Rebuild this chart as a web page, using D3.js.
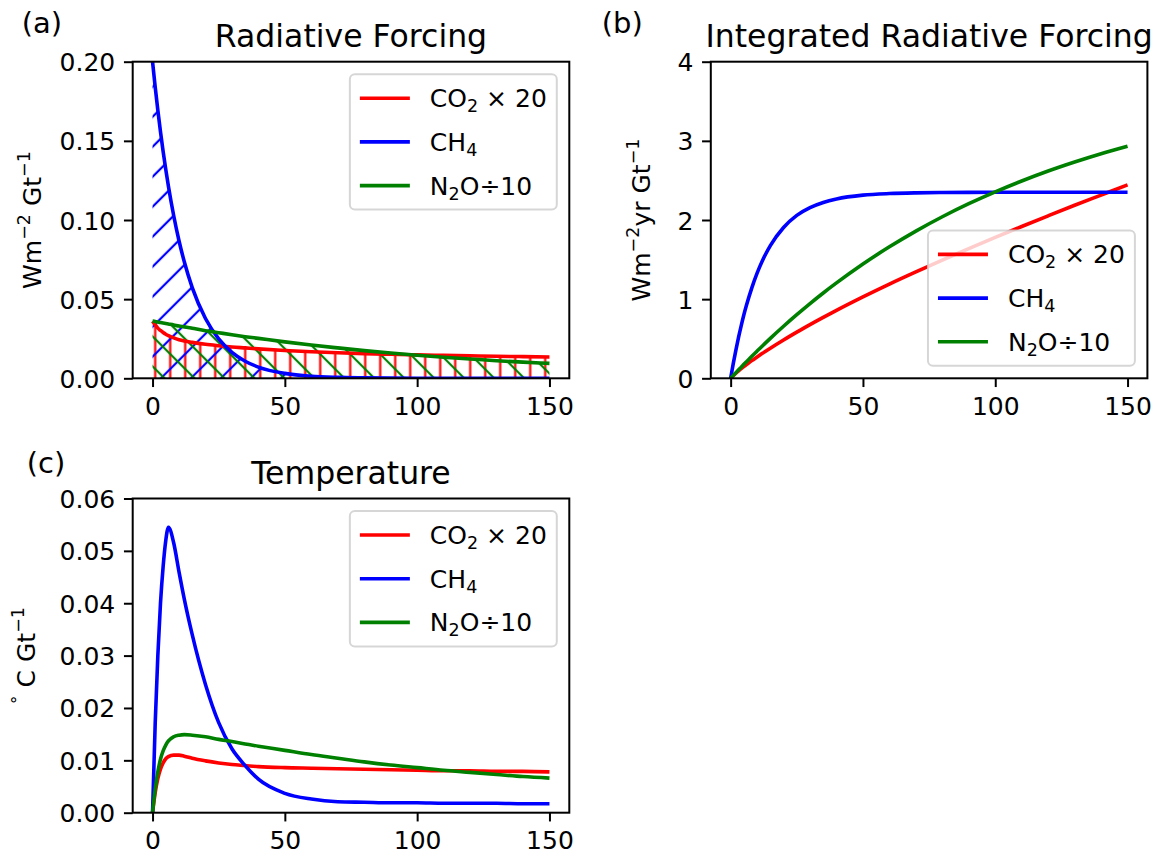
<!DOCTYPE html>
<html>
<head>
  <meta charset="utf-8">
  <title>forcing</title>
  <script src="https://d3js.org/d3.v7.min.js"></script>
  <style>
    body { margin: 0; background: #fff; }
    text { font-family: "DejaVu Sans", sans-serif; fill: #000; }
  </style>
</head>
<body>
  <svg width="1153" height="855" id="mainsvg"></svg>
  <script>
    // years after a 1 Gt pulse
    const years = [0,1,2,3,4,5,6,8,10,12,15,20,25,30,35,40,50,60,70,80,90,100,110,120,130,140,150];

    // (a) radiative forcing, W m-2 per Gt
    const rfCO2 = [0.0360,0.0337,0.0317,0.0302,0.0289,0.0278,0.0269,0.0255,0.0244,0.0236,0.0227,0.0215,0.0206,0.0198,0.0192,0.0186,0.0176,0.0168,0.0161,0.0156,0.0152,0.0148,0.0145,0.0142,0.0139,0.0137,0.0135];
    const rfCH4 = [0.2000,0.1840,0.1693,0.1558,0.1433,0.1319,0.1213,0.1027,0.0869,0.0736,0.0573,0.0378,0.0249,0.0164,0.0108,0.0071,0.0031,0.0013,0.0006,0.0003,0.0001,0,0,0,0,0,0];
    const rfN2O = [0.0362,0.0359,0.0355,0.0352,0.0349,0.0346,0.0343,0.0337,0.0330,0.0325,0.0316,0.0301,0.0288,0.0275,0.0263,0.0252,0.0230,0.0210,0.0192,0.0175,0.0160,0.0146,0.0133,0.0122,0.0111,0.0102,0.0094];

    // (b) integrated radiative forcing, W m-2 yr per Gt
    const irfCO2 = [0,0.033,0.064,0.093,0.121,0.148,0.173,0.223,0.269,0.315,0.380,0.484,0.583,0.679,0.770,0.859,1.029,1.191,1.345,1.494,1.639,1.780,1.918,2.053,2.186,2.315,2.444];
    const irfCH4 = [0,0.188,0.360,0.520,0.666,0.802,0.925,1.143,1.329,1.486,1.677,1.906,2.059,2.157,2.222,2.266,2.314,2.334,2.343,2.347,2.349,2.350,2.350,2.350,2.350,2.350,2.350];
    const irfN2O = [0,0.036,0.071,0.107,0.141,0.176,0.210,0.278,0.344,0.409,0.505,0.658,0.804,0.944,1.078,1.205,1.444,1.661,1.860,2.041,2.206,2.356,2.493,2.619,2.733,2.838,2.933];

    // (c) temperature, degC per Gt
    const tempCO2 = [0,0.0038,0.0065,0.0083,0.0095,0.0103,0.0107,0.0110,0.0110,0.0108,0.0104,0.0099,0.0095,0.0092,0.0090,0.0088,0.0086,0.0085,0.0084,0.0083,0.0082,0.0081,0.0080,0.0080,0.0079,0.0079,0.0078];
    const tempCH4 = [0,0.0170,0.0300,0.0400,0.0470,0.0520,0.0545,0.0515,0.0460,0.0408,0.0340,0.0245,0.0172,0.0122,0.0090,0.0064,0.0037,0.0026,0.0021,0.0020,0.0019,0.0019,0.0018,0.0018,0.0018,0.0017,0.0017];
    const tempN2O = [0,0.0045,0.0078,0.0102,0.0118,0.0129,0.0137,0.0145,0.0148,0.0149,0.0148,0.0145,0.0140,0.0136,0.0131,0.0127,0.0119,0.0111,0.0104,0.0097,0.0091,0.0086,0.0081,0.0077,0.0073,0.0069,0.0066];

    const xTicks = [0, 50, 100, 150];
    const rfTicks = [0, 0.05, 0.10, 0.15, 0.20];
    const irfTicks = [0, 1, 2, 3, 4];
    const tempTicks = [0, 0.01, 0.02, 0.03, 0.04, 0.05, 0.06];

    const colors = ['#ff0000', '#0000ff', '#008000'];
    const hatchIds = ['hatchV', 'hatchNE', 'hatchNW'];
    // rich-text labels: [text, shift] with shift 'sub', 'sup' or ''
    const legendLabels = [
      [['CO', ''], ['2', 'sub'], [' \u00d7 20', '']],
      [['CH', ''], ['4', 'sub']],
      [['N', ''], ['2', 'sub'], ['O\u00f710', '']]
    ];

    const svg = d3.select('#mainsvg');
    const W = 436.6;
    const fs = 25;

    // hatch patterns for panel (a)
    const defs = svg.append('defs');
    const pv = defs.append('pattern').attr('id', 'hatchV')
      .attr('patternUnits', 'userSpaceOnUse').attr('width', 15).attr('height', 15);
    pv.append('line').attr('x1', 7.5).attr('x2', 7.5).attr('y1', 0).attr('y2', 15)
      .attr('stroke', colors[0]).attr('stroke-width', 2.2);
    const diag = (id, angle, col) => {
      const p = defs.append('pattern').attr('id', id)
        .attr('patternUnits', 'userSpaceOnUse').attr('width', 21.2).attr('height', 10)
        .attr('patternTransform', `rotate(${angle})`);
      p.append('line').attr('x1', 10.6).attr('x2', 10.6).attr('y1', 0).attr('y2', 10)
        .attr('stroke', col).attr('stroke-width', 2.2);
    };
    diag('hatchNE', 45, colors[1]);
    diag('hatchNW', -45, colors[2]);

    function richText(sel, parts, size) {
      let shift = 0;
      parts.forEach(([s, kind]) => {
        let target = 0, fsz = size;
        if (kind === 'sub') { target = 0.2 * size; fsz = 0.7 * size; }
        if (kind === 'sup') { target = -0.42 * size; fsz = 0.7 * size; }
        sel.append('tspan').attr('dy', target - shift).attr('font-size', fsz).text(s);
        shift = target;
      });
    }

    function drawPanel(cfg) {
      const H = cfg.height;
      const g = svg.append('g').attr('transform', `translate(${cfg.left},${cfg.top})`);
      const x = d3.scaleLinear().domain([-7.5, 157.5]).range([0, W]);
      const y = d3.scaleLinear().domain(cfg.ydom).range([H, 0]);

      const clipId = 'clip' + cfg.tag;
      g.append('clipPath').attr('id', clipId).append('rect').attr('width', W).attr('height', H);
      const plot = g.append('g').attr('clip-path', `url(#${clipId})`);

      if (cfg.hatch) {
        const area = d3.area().x((d, i) => x(years[i])).y0(y(0)).y1(d => y(d)).curve(d3.curveMonotoneX);
        cfg.series.forEach((s, k) => {
          plot.append('path').datum(s).attr('d', area)
            .attr('fill', `url(#${hatchIds[k]})`).attr('stroke', 'none');
        });
      }
      const line = d3.line().x((d, i) => x(years[i])).y(d => y(d)).curve(d3.curveMonotoneX);
      cfg.series.forEach((s, k) => {
        plot.append('path').datum(s).attr('d', line)
          .attr('fill', 'none').attr('stroke', colors[k]).attr('stroke-width', 3.6)
          .attr('stroke-linejoin', 'round');
      });

      // axes
      const xa = g.append('g').attr('transform', `translate(0,${H})`)
        .call(d3.axisBottom(x).tickValues(xTicks).tickSize(8.75).tickPadding(8.75).tickFormat(d3.format('d')));
      const ya = g.append('g')
        .call(d3.axisLeft(y).tickValues(cfg.ticks).tickSize(8.75).tickPadding(8.75).tickFormat(cfg.fmt));
      [xa, ya].forEach(a => {
        a.select('.domain').remove();
        a.selectAll('line').attr('stroke', '#000').attr('stroke-width', 2);
        a.selectAll('text').attr('font-size', fs).attr('font-family', 'DejaVu Sans').attr('fill', '#000');
      });
      xa.selectAll('text').attr('dy', null).attr('y', 8.75 + 8.75 + 19);
      ya.selectAll('text').attr('dy', null).attr('y', 9);

      g.append('rect').attr('width', W).attr('height', H)
        .attr('fill', 'none').attr('stroke', '#000').attr('stroke-width', 2);

      // title and panel letter
      g.append('text').attr('x', W / 2).attr('y', -14.5).attr('text-anchor', 'middle')
        .attr('font-size', 31.5).text(cfg.title);
      g.append('text').attr('x', cfg.letterX).attr('y', cfg.letterY).attr('font-size', 29).text(cfg.letter);

      // y label
      const yl = g.append('text').attr('text-anchor', 'middle').attr('font-size', fs)
        .attr('transform', `translate(${cfg.ylabX},${H / 2}) rotate(-90)`);
      richText(yl, cfg.ylabel, fs);

      // legend
      const rowGap = 43.7, pad = 10, handle = 50;
      const leg = g.append('g');
      const box = leg.append('rect').attr('rx', 5).attr('ry', 5)
        .attr('fill', '#fff').attr('fill-opacity', 0.8)
        .attr('stroke', '#cccccc').attr('stroke-opacity', 0.8).attr('stroke-width', 2);
      const texts = legendLabels.map((lab, k) => {
        const t = leg.append('text').attr('font-size', fs).attr('x', pad + handle + 20)
          .attr('y', 24 + k * rowGap + 9);
        richText(t, lab, fs);
        leg.append('line').attr('x1', pad).attr('x2', pad + handle)
          .attr('y1', 24 + k * rowGap).attr('y2', 24 + k * rowGap)
          .attr('stroke', colors[k]).attr('stroke-width', 3.6);
        return t;
      });
      const tw = d3.max(texts, t => t.node().getComputedTextLength());
      const bw = pad + handle + 20 + tw + pad, bh = 48 + 2 * rowGap;
      box.attr('width', bw).attr('height', bh);
      const lx = W - 12.5 - bw;
      const ly = cfg.legendLow ? H - 12.5 - bh : 12.5;
      leg.attr('transform', `translate(${lx},${ly})`);
    }

    const f2 = d3.format('.2f');
    drawPanel({
      tag: 'a', left: 132.7, top: 61.7, height: 316.6, ydom: [0, 0.2], ticks: rfTicks, fmt: f2,
      series: [rfCO2, rfCH4, rfN2O], hatch: true,
      title: 'Radiative Forcing', letter: '(a)', letterX: -111, letterY: -29,
      ylabel: [['Wm', ''], ['\u22122', 'sup'], [' Gt', ''], ['\u22121', 'sup']], ylabX: -92
    });
    drawPanel({
      tag: 'b', left: 710.8, top: 61.7, height: 316.6, ydom: [0, 4], ticks: irfTicks, fmt: d3.format('d'),
      series: [irfCO2, irfCH4, irfN2O], hatch: false, legendLow: true,
      title: 'Integrated Radiative Forcing', letter: '(b)', letterX: -109, letterY: -29,
      ylabel: [['Wm', ''], ['\u22122', 'sup'], ['yr Gt', ''], ['\u22121', 'sup']], ylabX: -61
    });
    drawPanel({
      tag: 'c', left: 132.7, top: 498.5, height: 314.2, ydom: [0, 0.06], ticks: tempTicks, fmt: f2,
      series: [tempCO2, tempCH4, tempN2O], hatch: false,
      title: 'Temperature', letter: '(c)', letterX: -106, letterY: -26,
      ylabel: [['\u00b0', 'sup'], [' C Gt', ''], ['\u22121', 'sup']], ylabX: -98
    });
  </script>
</body>
</html>
